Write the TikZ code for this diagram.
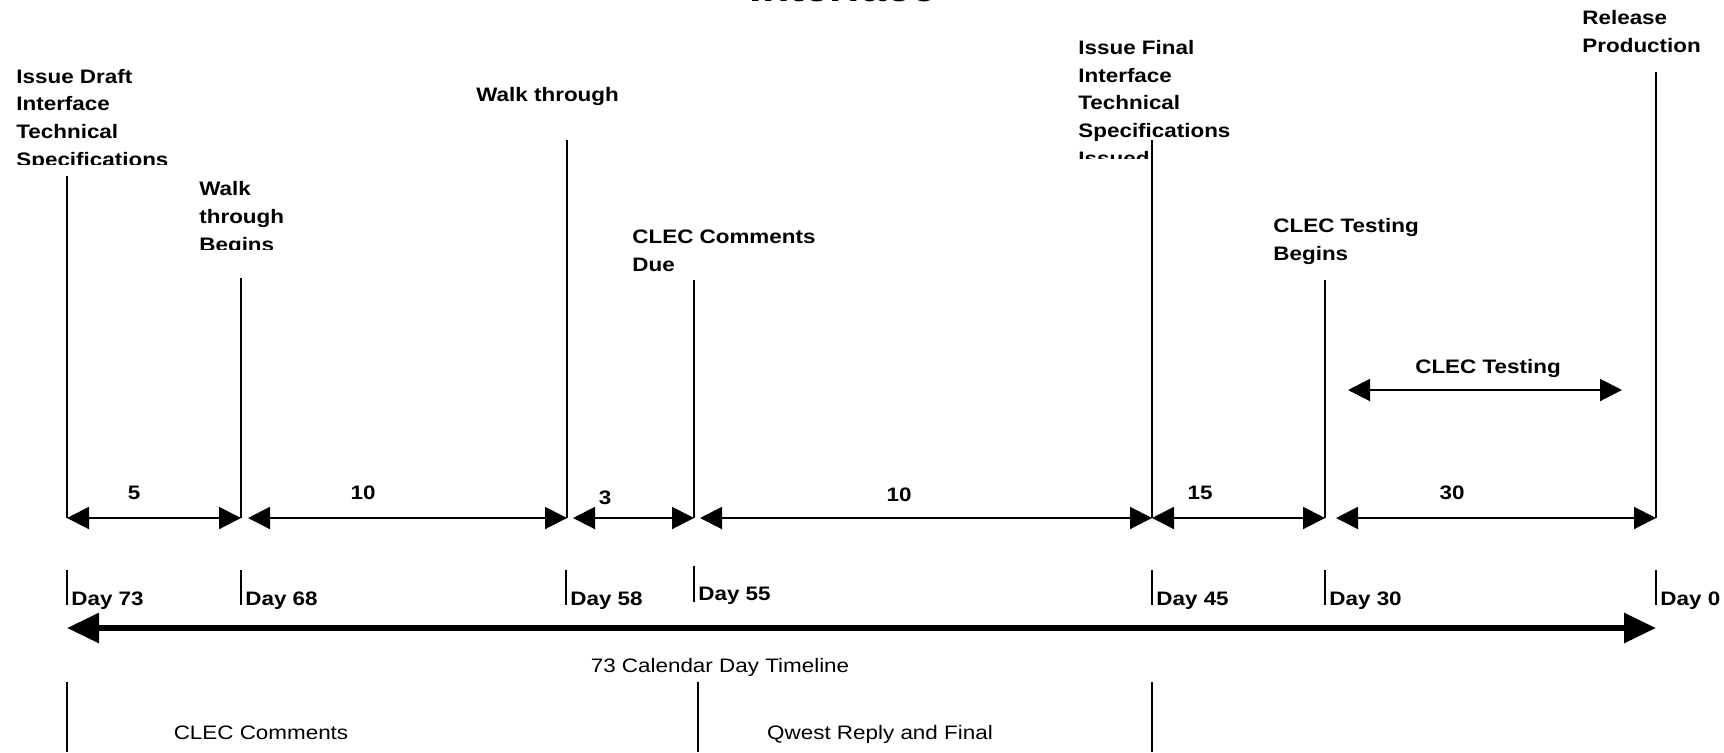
\documentclass[tikz,border=0pt]{standalone}
\usepackage{fontspec}
\setmainfont{Liberation Sans}[FakeStretch=1.15]
\usetikzlibrary{arrows.meta,positioning}

\begin{document}
\begin{tikzpicture}[
    x=0.5pt, y=-0.5pt,
    lbl/.style={font=\fontsize{9.75}{13.8}\selectfont\bfseries, align=left, anchor=base west, inner sep=0},
    txt/.style={font=\fontsize{9.75}{13.8}\selectfont, anchor=base, inner sep=0},
    num/.style={font=\fontsize{9.75}{13.8}\selectfont\bfseries, anchor=base, inner sep=0},
    evt/.style={line width=0.75pt},
    span/.style={{Triangle[length=11pt,width=11pt]}-{Triangle[length=11pt,width=11pt]}, line width=1pt},
    big/.style={{Triangle[length=16pt,width=14.5pt]}-{Triangle[length=16pt,width=14.5pt]}, line width=3pt}
]
\useasboundingbox (0,0) rectangle (1724,752);

% title, cut off at the top
\node[font=\fontsize{19.5}{23}\selectfont\bfseries, anchor=base, inner sep=0] (title) at (843,1) {Interface};

% milestone labels (anchored on their last line)
\begin{scope}
    \clip (0,0) rectangle (190,164);
    \node[lbl] (draft) at (16,166) {Issue Draft\\Interface\\Technical\\Specifications};
\end{scope}
\begin{scope}
    \clip (190,170) rectangle (320,249);
    \node[lbl] (wtb) at (199,251) {Walk\\through\\Begins};
\end{scope}
\node[lbl] (wt) at (476,101) {Walk through};
\node[lbl] (due) at (632,271) {CLEC Comments\\Due};
\begin{scope}
    \clip (1070,20) rectangle (1260,158);
    \node[lbl] (final) at (1078,165) {Issue Final\\Interface\\Technical\\Specifications\\Issued};
\end{scope}
\node[lbl] (tb) at (1273,260) {CLEC Testing\\Begins};
\node[lbl] (rel) at (1582,52) {Release\\Production};

% milestone lines
\coordinate (a0) at (67,176);   \coordinate (a1) at (67,518);
\coordinate (b0) at (241,278);  \coordinate (b1) at (241,518);
\coordinate (c0) at (567,140);  \coordinate (c1) at (567,518);
\coordinate (d0) at (694,280);  \coordinate (d1) at (694,518);
\coordinate (e0) at (1152,140); \coordinate (e1) at (1152,518);
\coordinate (f0) at (1325,280); \coordinate (f1) at (1325,518);
\coordinate (g0) at (1656,72);  \coordinate (g1) at (1656,518);
\draw[evt] (a0) -- (a1);
\draw[evt] (b0) -- (b1);
\draw[evt] (c0) -- (c1);
\draw[evt] (d0) -- (d1);
\draw[evt] (e0) -- (e1);
\draw[evt] (f0) -- (f1);
\draw[evt] (g0) -- (g1);

% CLEC testing window
\node[num] (test) at (1488,373) {CLEC Testing};
\coordinate (t0) at (1348,390);
\coordinate (t1) at (1622,390);
\draw[span] (t0) -- (t1);

% spans in days
\draw[span] (a1) -- (b1);
\draw[span, shorten <=3.5pt] (b1) -- (c1);
\draw[span, shorten <=3pt] (c1) -- (d1);
\draw[span, shorten <=3pt] (d1) -- (e1);
\draw[span] (e1) -- (f1);
\draw[span, shorten <=5.5pt] (f1) -- (g1);
\node[num] (n5) at (134,499) {5};
\node[num] (n10a) at (363,499) {10};
\node[num] (n3) at (605,504) {3};
\node[num] (n10b) at (899,501) {10};
\node[num] (n15) at (1200,499) {15};
\node[num] (n30) at (1452,499) {30};

% day marks
\coordinate (k73) at (67,570);   \coordinate (k73b) at (67,605);
\coordinate (k68) at (241,570);  \coordinate (k68b) at (241,605);
\coordinate (k58) at (566,570);  \coordinate (k58b) at (566,605);
\coordinate (k55) at (694,566);  \coordinate (k55b) at (694,602);
\coordinate (k45) at (1152,570); \coordinate (k45b) at (1152,605);
\coordinate (k30) at (1325,570); \coordinate (k30b) at (1325,605);
\coordinate (k0) at (1656,570);  \coordinate (k0b) at (1656,605);
\draw[evt] (k73) -- (k73b);
\draw[evt] (k68) -- (k68b);
\draw[evt] (k58) -- (k58b);
\draw[evt] (k55) -- (k55b);
\draw[evt] (k45) -- (k45b);
\draw[evt] (k30) -- (k30b);
\draw[evt] (k0) -- (k0b);
\node[lbl] (d73) at (71,605) {Day 73};
\node[lbl] (d68) at (245,605) {Day 68};
\node[lbl] (d58) at (570,605) {Day 58};
\node[lbl] (d55) at (698,600) {Day 55};
\node[lbl] (d45) at (1156,605) {Day 45};
\node[lbl] (d30) at (1329,605) {Day 30};
\node[lbl] (d0) at (1660,605) {Day 0};

% overall timeline
\coordinate (s) at (67,628);
\coordinate (z) at (1656,628);
\draw[big] (s) -- (z);
\node[txt] (cal) at (720,672) {73 Calendar Day Timeline};

% phases
\coordinate (p0) at (67,682);   \coordinate (p0b) at (67,752);
\coordinate (p1) at (698,682);  \coordinate (p1b) at (698,752);
\coordinate (p2) at (1152,682); \coordinate (p2b) at (1152,752);
\draw[evt] (p0) -- (p0b);
\draw[evt] (p1) -- (p1b);
\draw[evt] (p2) -- (p2b);
\node[txt] (cmt) at (261,739) {CLEC Comments};
\node[txt] (qwest) at (880,739) {Qwest Reply and Final};
\end{tikzpicture}
\end{document}
